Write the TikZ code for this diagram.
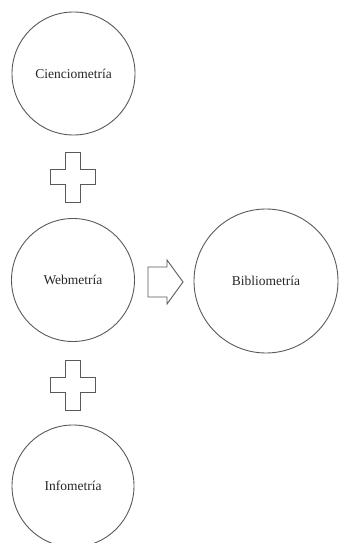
\documentclass[tikz,border=0pt]{standalone}
\usepackage{fontspec}
\setmainfont{Liberation Serif}
\begin{document}
\begin{tikzpicture}[x=1pt,y=-1pt,
  circ/.style={circle,draw=black!65,line width=0.9pt,inner sep=0pt,font=\fontsize{13.5}{15}\selectfont,text=black!85},
  shapeline/.style={draw=black!65,line width=0.9pt,line join=miter}]
\useasboundingbox (0,0) rectangle (339,543);
\node[circ,minimum size=123pt] (cien) at (73.5,73.5) {Cienciometría};
\node[circ,minimum size=123pt] (web) at (73,280) {Webmetría};
\node[circ,minimum size=144pt] (bib) at (266,281) {Bibliometría};
\node[circ,minimum size=122pt] (info) at (73,486) {Infometría};
% plus signs
\coordinate (p1) at (72.5,177);
\coordinate (p2) at (72.5,385);
\foreach \p in {p1,p2}{
  \draw[shapeline] (\p) ++(-7.5,-25) -- ++(15,0) -- ++(0,17.5) -- ++(15,0) -- ++(0,15)
    -- ++(-15,0) -- ++(0,17.5) -- ++(-15,0) -- ++(0,-17.5) -- ++(-15,0) -- ++(0,-15)
    -- ++(15,0) -- cycle;
}
% arrow
\coordinate (ar) at (148,282);
\draw[shapeline] (ar) ++(0,-15) -- ++(19,0) -- ++(0,-7) -- ++(16,22) -- ++(-16,22)
  -- ++(0,-7) -- ++(-19,0) -- cycle;
\end{tikzpicture}
\end{document}
